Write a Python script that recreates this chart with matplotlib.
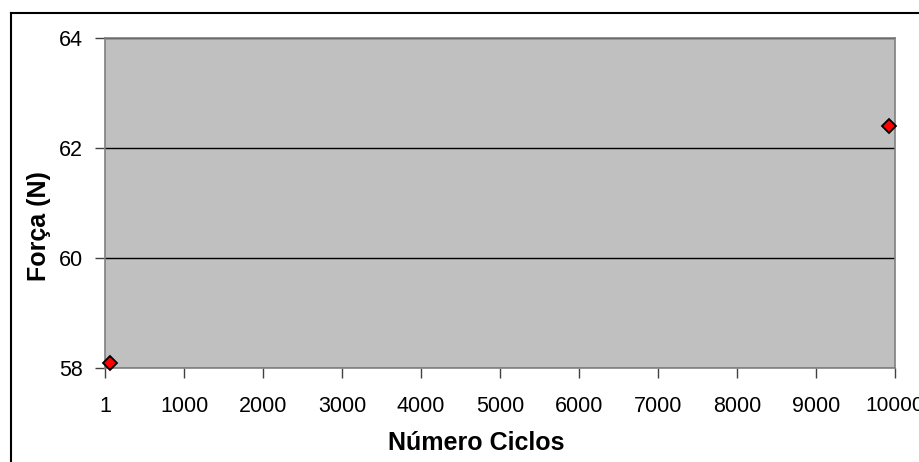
import matplotlib.pyplot as plt
from matplotlib.lines import Line2D

plt.rcParams['font.family'] = ['Liberation Sans', 'DejaVu Sans']

ciclos = [60, 9925]
forca = [58.1, 62.4]
xticks = [0, 1000, 2000, 3000, 4000, 5000, 6000, 7000, 8000, 9000, 10000]
xlabels = ['1', '1000', '2000', '3000', '4000', '5000', '6000', '7000', '8000', '9000', '10000']
yticks = [58, 60, 62, 64]

W, H = 919, 462
fig = plt.figure(figsize=(W / 100, H / 100), dpi=100)
ax = fig.add_axes([105 / W, 1 - 368 / H, 790 / W, 330 / H])
ax.set_facecolor('#c0c0c0')

ax.plot(ciclos, forca, linestyle='none', marker='D', markersize=7,
        markerfacecolor='red', markeredgecolor='black', markeredgewidth=1.3,
        zorder=3, clip_on=False)

ax.set_xlim(0, 10000)
ax.set_ylim(58, 64)
ax.set_xticks(xticks)
ax.set_xticklabels(xlabels)
ax.set_yticks(yticks)
ax.yaxis.grid(True, color='black', linewidth=1)
ax.set_axisbelow(True)

for s in ax.spines.values():
    s.set_color('#808080')
    s.set_linewidth(1.2)

ax.tick_params(axis='both', direction='out', length=7, width=1, color='#404040',
               labelsize=15.5)
ax.tick_params(axis='x', pad=13)
ax.tick_params(axis='y', pad=9)
# last label runs off the right edge, as in the original
ax.get_xticklabels()[-1].set_fontsize(15)

ax.set_xlabel('Número Ciclos', fontsize=18, fontweight='bold')
ax.set_ylabel('Força (N)', fontsize=18, fontweight='bold')
ax.xaxis.set_label_coords(0.47, -0.19)
ax.yaxis.set_label_coords(-0.068, 0.43)

# outer chart border (top and left visible)
fig.add_artist(Line2D([11 / W, 11 / W], [0, 1 - 13 / H], color='black', linewidth=1.5))
fig.add_artist(Line2D([11 / W, 1], [1 - 13 / H, 1 - 13 / H], color='black', linewidth=1.5))

fig.savefig('out.png', dpi=100)
